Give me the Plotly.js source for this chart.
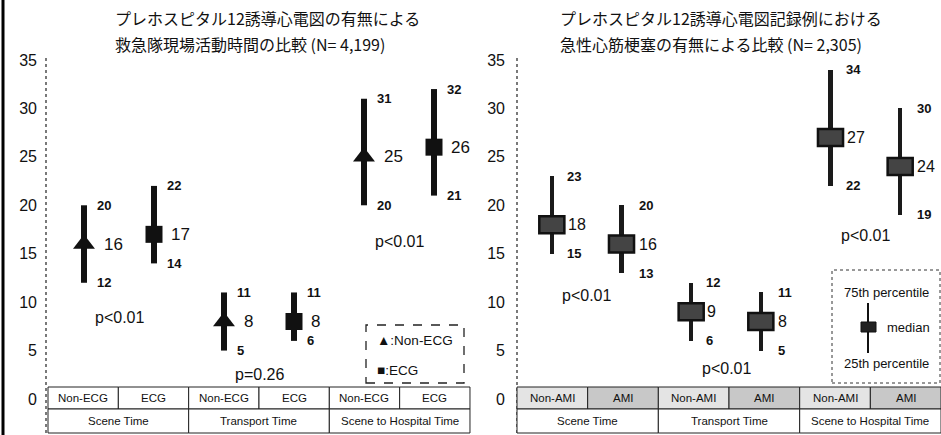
<!DOCTYPE html>
<html>
<head>
<meta charset="utf-8">
<script src="https://cdn.plot.ly/plotly-3.0.1.min.js"></script>
<style>html,body{margin:0;padding:0;background:#fff;}#chart{width:941px;height:435px;}</style>
</head>
<body>
<div id="chart"></div>
<script>
// ---------------- DATA ----------------
const groups = ['Scene Time', 'Transport Time', 'Scene to Hospital Time'];
const ecgCats = ['Non-ECG', 'ECG'];
const amiCats = ['Non-AMI', 'AMI'];

const nonEcgMedian = [16, 8, 25];
const nonEcgP25 = [12, 5, 20];
const nonEcgP75 = [20, 11, 31];
const ecgMedian = [17, 8, 26];
const ecgP25 = [14, 6, 21];
const ecgP75 = [22, 11, 32];

const nonAmiMedian = [18, 9, 27];
const nonAmiP25 = [15, 6, 22];
const nonAmiP75 = [23, 12, 34];
const amiMedian = [16, 8, 24];
const amiP25 = [13, 5, 19];
const amiP75 = [20, 11, 30];

const pLeft = ['p<0.01', 'p=0.26', 'p<0.01'];
const pRight = ['p<0.01', 'p<0.01', 'p<0.01'];
const yTicks = [0, 5, 10, 15, 20, 25, 30, 35];

const titleLeft = ['プレホスピタル12誘導心電図の有無による', '救急隊現場活動時間の比較 (N= 4,199)'];
const titleRight = ['プレホスピタル12誘導心電図記録例における', '急性心筋梗塞の有無による比較 (N= 2,305)'];
const legendLeft = ['▲:Non-ECG', '■:ECG'];
const legendRight = ['75th percentile', 'median', '25th percentile'];

// ---------------- HELPERS ----------------
const W = 941, H = 435;
const px = x => x / W;
const py = y => 1 - y / H;
const key = (g, c) => g + '|' + c;
const leftKeys = groups.flatMap(g => ecgCats.map(c => key(g, c)));
const rightKeys = groups.flatMap(g => amiCats.map(c => key(g, c)));
const FONT = 'Liberation Sans, Arial, sans-serif';
const CJK = 'Noto Sans CJK JP, sans-serif';
const INK = '#111';

function whisker(cat, lo, hi, xa, ya, w) {
  const xs = [], ys = [];
  groups.forEach((g, i) => { xs.push(key(g, cat), key(g, cat), null); ys.push(lo[i], hi[i], null); });
  return {type: 'scatter', mode: 'lines', x: xs, y: ys, xaxis: xa, yaxis: ya,
          line: {color: INK, width: w}, hoverinfo: 'skip', showlegend: false};
}

const traces = [];
// Left panel
traces.push(whisker('Non-ECG', nonEcgP25, nonEcgP75, 'x', 'y', 6));
traces.push(whisker('ECG', ecgP25, ecgP75, 'x', 'y', 6));
traces.push({type: 'scatter', mode: 'markers', x: groups.map(g => key(g, 'Non-ECG')), y: nonEcgMedian,
  xaxis: 'x', yaxis: 'y', marker: {symbol: 'triangle-up', size: 19, color: INK}, showlegend: false});
traces.push({type: 'scatter', mode: 'markers', x: groups.map(g => key(g, 'ECG')), y: ecgMedian,
  xaxis: 'x', yaxis: 'y', marker: {symbol: 'square', size: 17, color: INK}, showlegend: false});

// Right panel (bars: whisker then median box)
const boxHalf = 0.88;
function rightSet(cat, med, lo, hi) {
  const xs = groups.map(g => key(g, cat));
  traces.push({type: 'bar', x: xs, base: lo, y: hi.map((h, i) => h - lo[i]), width: 0.06,
    xaxis: 'x2', yaxis: 'y2', marker: {color: '#1a1a1a', line: {width: 0}}, showlegend: false, hoverinfo: 'skip'});
  traces.push({type: 'bar', x: xs, base: med.map(m => m - boxHalf), y: med.map(() => 2 * boxHalf), width: 0.36,
    xaxis: 'x2', yaxis: 'y2', marker: {color: '#444', line: {color: INK, width: 2.5}}, showlegend: false, hoverinfo: 'skip'});
}
rightSet('Non-AMI', nonAmiMedian, nonAmiP25, nonAmiP75);
rightSet('AMI', amiMedian, amiP25, amiP75);

// ---------------- ANNOTATIONS ----------------
const ann = [];
function valLabels(xa, ya, cat, vals, shift, size, bold) {
  groups.forEach((g, i) => ann.push({xref: xa, yref: ya, x: key(g, cat), y: vals[i],
    text: bold ? '<b>' + vals[i] + '</b>' : String(vals[i]), showarrow: false, xanchor: 'left', yanchor: 'middle', xshift: shift,
    font: {family: FONT, size: size, color: INK}}));
}
valLabels('x', 'y', 'Non-ECG', nonEcgP75, 11, 13, true);
valLabels('x', 'y', 'Non-ECG', nonEcgP25, 11, 13, true);
valLabels('x', 'y', 'Non-ECG', nonEcgMedian, 18, 17, false);
valLabels('x', 'y', 'ECG', ecgP75, 11, 13, true);
valLabels('x', 'y', 'ECG', ecgP25, 11, 13, true);
valLabels('x', 'y', 'ECG', ecgMedian, 15, 17, false);
valLabels('x2', 'y2', 'Non-AMI', nonAmiP75, 13, 13, true);
valLabels('x2', 'y2', 'Non-AMI', nonAmiP25, 13, 13, true);
valLabels('x2', 'y2', 'Non-AMI', nonAmiMedian, 14, 16, false);
valLabels('x2', 'y2', 'AMI', amiP75, 15, 13, true);
valLabels('x2', 'y2', 'AMI', amiP25, 15, 13, true);
valLabels('x2', 'y2', 'AMI', amiMedian, 15, 16, false);

// p-values (y placement in layout units)
const pYLeft = [8.4, 2.5, 16.3];
const pYRight = [10.7, 3.2, 16.9];
pLeft.forEach((t, i) => ann.push({xref: 'x', yref: 'y', x: 2 * i + 0.5, y: pYLeft[i], text: t, showarrow: false,
  xanchor: 'center', yanchor: 'middle', font: {family: FONT, size: 16, color: INK}}));
pRight.forEach((t, i) => ann.push({xref: 'x2', yref: 'y2', x: 2 * i + 0.5, y: pYRight[i], text: t, showarrow: false,
  xanchor: 'center', yanchor: 'middle', font: {family: FONT, size: 16, color: INK}}));

// titles
[[titleLeft, 113], [titleRight, 558]].forEach(([lines, x0]) => {
  lines.forEach((t, i) => ann.push({xref: 'paper', yref: 'paper', x: px(x0), y: py(18 + 26 * i), text: t,
    showarrow: false, xanchor: 'left', yanchor: 'middle', font: {family: CJK, size: 16, color: INK}}));
});

function pAnn(x, y, t, xanchor, size) {
  ann.push({xref: 'paper', yref: 'paper', x: px(x), y: py(y), text: t, showarrow: false,
    xanchor: xanchor, yanchor: 'middle', font: {family: FONT, size: size, color: INK}});
}

// ---------------- SHAPES (frame, axes, tables, legends) ----------------
const shapes = [];
shapes.push({type: 'line', xref: 'paper', yref: 'paper', x0: px(3), x1: px(3), y0: 0, y1: 1, line: {color: '#000', width: 3}});
[46, 517].forEach(x => shapes.push({type: 'line', xref: 'paper', yref: 'paper', x0: px(x), x1: px(x),
  y0: py(58), y1: py(434), line: {color: '#333', width: 1.3, dash: 'dot'}}));

function table(x0, colW, cats, fills) {
  const top = 387, mid = 409, bot = 433;
  groups.forEach((g, gi) => {
    cats.forEach((c, ci) => {
      const k = gi * 2 + ci;
      shapes.push({type: 'rect', xref: 'paper', yref: 'paper', x0: px(x0 + k * colW), x1: px(x0 + (k + 1) * colW),
        y0: py(mid), y1: py(top), fillcolor: fills[ci], line: {color: '#222', width: 1}});
      pAnn(x0 + (k + 0.5) * colW, (top + mid) / 2, c, 'center', 11.5);
    });
    shapes.push({type: 'rect', xref: 'paper', yref: 'paper', x0: px(x0 + gi * 2 * colW), x1: px(x0 + (gi + 1) * 2 * colW),
      y0: py(bot), y1: py(mid), fillcolor: '#fff', line: {color: '#222', width: 1}});
    pAnn(x0 + (gi + 0.5) * 2 * colW, (mid + bot) / 2, g, 'center', 11.5);
  });
}
table(48, 70.33, ecgCats, ['#fff', '#fff']);
table(517, 70.67, amiCats, ['#e4e4e4', '#c8c8c8']);

// left legend
shapes.push({type: 'rect', xref: 'paper', yref: 'paper', x0: px(366), x1: px(464), y0: py(383), y1: py(325),
  fillcolor: 'rgba(255,255,255,0)', line: {color: '#222', width: 1.3, dash: 'dash'}});
legendLeft.forEach((t, i) => pAnn(375, 340 + 30 * i, t, 'left', 13.5));

// right legend
shapes.push({type: 'rect', xref: 'paper', yref: 'paper', x0: px(832), x1: px(940), y0: py(383), y1: py(270),
  fillcolor: 'rgba(255,255,255,0)', line: {color: '#333', width: 1, dash: 'dot'}});
shapes.push({type: 'line', xref: 'paper', yref: 'paper', x0: px(868), x1: px(868), y0: py(353), y1: py(303),
  line: {color: INK, width: 2}});
shapes.push({type: 'rect', xref: 'paper', yref: 'paper', x0: px(861), x1: px(876), y0: py(332), y1: py(322),
  fillcolor: '#222', line: {color: INK, width: 1}});
pAnn(886, 292, legendRight[0], 'center', 13);
pAnn(885, 327, legendRight[1], 'left', 13);
pAnn(886, 363, legendRight[2], 'center', 13);

// ---------------- LAYOUT ----------------
const yDom = [py(399), py(60)];
const xBase = {type: 'category', range: [-0.5, 5.5], showgrid: false, zeroline: false, showline: false,
  showticklabels: false, ticks: '', fixedrange: true};
const yBase = {range: [0, 35], domain: yDom, tickmode: 'array', tickvals: yTicks, ticktext: yTicks.map(String),
  showgrid: false, zeroline: false, showline: false, ticks: '', ticklabelstandoff: 11,
  tickfont: {family: FONT, size: 16, color: INK}, fixedrange: true};

const layout = {
  width: W, height: H, margin: {l: 0, r: 0, t: 0, b: 0},
  paper_bgcolor: '#fff', plot_bgcolor: 'rgba(0,0,0,0)',
  showlegend: false, barmode: 'overlay', bargap: 0,
  xaxis: Object.assign({}, xBase, {domain: [px(49), px(469)], anchor: 'y', categoryorder: 'array', categoryarray: leftKeys}),
  yaxis: Object.assign({}, yBase, {anchor: 'x'}),
  xaxis2: Object.assign({}, xBase, {domain: [px(517), px(935)], anchor: 'y2', categoryorder: 'array', categoryarray: rightKeys}),
  yaxis2: Object.assign({}, yBase, {anchor: 'x2'}),
  shapes: shapes, annotations: ann
};

Plotly.newPlot('chart', traces, layout, {staticPlot: true, displayModeBar: false});
</script>
</body>
</html>
